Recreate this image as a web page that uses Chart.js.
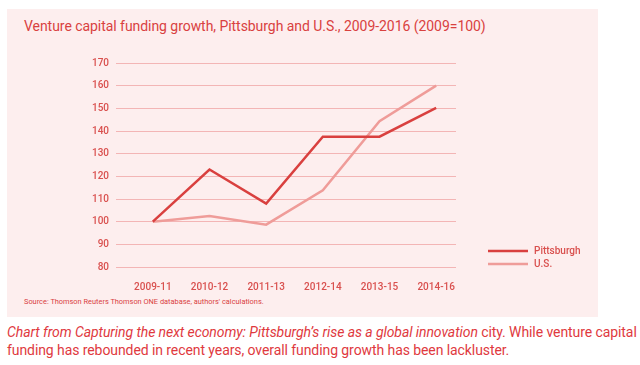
<!DOCTYPE html>
<html>
<head>
<meta charset="utf-8">
<script src="https://cdn.jsdelivr.net/npm/chart.js@4/dist/chart.umd.min.js"></script>
<style>
  html, body { margin: 0; padding: 0; background: #ffffff; }
  body { width: 640px; height: 365px; position: relative; overflow: hidden; font-family: Roboto, "Open Sans", sans-serif; }
  #panel { position: absolute; left: 7px; top: 9px; width: 591px; height: 308px; background: #fdeeee; }
  #title { position: absolute; left: 24px; top: 18px; font-size: 14px; color: #d9413f; white-space: nowrap; letter-spacing: -0.05px; }
  #source { position: absolute; left: 24px; top: 297px; font-size: 7.4px; color: #d9413f; white-space: nowrap; }
  #caption { position: absolute; left: 7px; top: 323px; font-size: 14px; line-height: 18px; color: #e0393e; white-space: nowrap; letter-spacing: -0.08px; }
  #wrap { position: absolute; left: 0; top: 0; width: 640px; height: 365px; }
</style>
</head>
<body>
<div id="panel"></div>
<div id="title">Venture capital funding growth, Pittsburgh and U.S., 2009-2016 (2009=100)</div>
<div id="source">Source: Thomson Reuters Thomson ONE database, authors' calculations.</div>
<div id="caption"><i>Chart from Capturing the next economy: Pittsburgh’s rise as a global innovation</i> city. While venture capital<br>funding has rebounded in recent years, overall funding growth has been lackluster.</div>
<div id="wrap"><canvas id="c" width="640" height="365"></canvas></div>
<script>
const categories = ["2009-11", "2010-12", "2011-13", "2012-14", "2013-15", "2014-16"];
const pittsburgh = [100, 123, 108, 137.5, 137.5, 150.2];
const us = [100, 102.5, 98.7, 113.8, 144.3, 160];
const yTicks = [80, 90, 100, 110, 120, 130, 140, 150, 160, 170];
const seriesNames = ["Pittsburgh", "U.S."];

const RED = "#d9403f";
const PINK = "#ef9c99";
const TICK = "#d9504e";

const toPts = arr => arr.map((v, i) => ({ x: i, y: v }));

const legendPlugin = {
  id: 'customLegend',
  afterDraw(chart) {
    const ctx = chart.ctx;
    ctx.save();
    chart.data.datasets.forEach((ds, i) => {
      const y = 251 + i * 13;
      ctx.strokeStyle = ds.borderColor;
      ctx.lineWidth = ds.borderWidth;
      ctx.beginPath();
      ctx.moveTo(488, y);
      ctx.lineTo(528, y);
      ctx.stroke();
      ctx.fillStyle = TICK;
      ctx.font = "500 10px Roboto, sans-serif";
      ctx.textBaseline = "middle";
      ctx.fillText(ds.label, 534, y);
    });
    ctx.restore();
  }
};

new Chart(document.getElementById('c'), {
  type: 'line',
  data: {
    datasets: [
      { label: seriesNames[0], data: toPts(pittsburgh), borderColor: RED, borderWidth: 2.5, pointRadius: 0, tension: 0, fill: false },
      { label: seriesNames[1], data: toPts(us), borderColor: PINK, borderWidth: 2.5, pointRadius: 0, tension: 0, fill: false }
    ]
  },
  options: {
    responsive: false,
    animation: false,
    devicePixelRatio: 1,
    layout: { padding: { left: 60, right: 184, top: 63, bottom: 66 } },
    plugins: { legend: { display: false }, tooltip: { enabled: false } },
    scales: {
      x: {
        type: 'linear',
        min: -0.65, max: 5.35,
        afterBuildTicks(scale) { scale.ticks = categories.map((c, i) => ({ value: i })); },
        grid: { display: false },
        border: { display: false },
        ticks: {
          color: TICK,
          font: { size: 10, weight: '500', family: 'Roboto' },
          padding: 6,
          maxRotation: 0,
          autoSkip: false,
          callback: (v) => categories[v]
        }
      },
      y: {
        min: 80, max: 170,
        afterBuildTicks(scale) { scale.ticks = yTicks.map(v => ({ value: v })); },
        afterFit(scale) { scale.width = 56; },
        grid: { color: "#f3b5b5", lineWidth: 1, drawTicks: false },
        border: { display: false },
        ticks: { color: TICK, font: { size: 10, weight: '500', family: 'Roboto' }, padding: 7 }
      }
    }
  },
  plugins: [legendPlugin]
});
</script>
</body>
</html>
